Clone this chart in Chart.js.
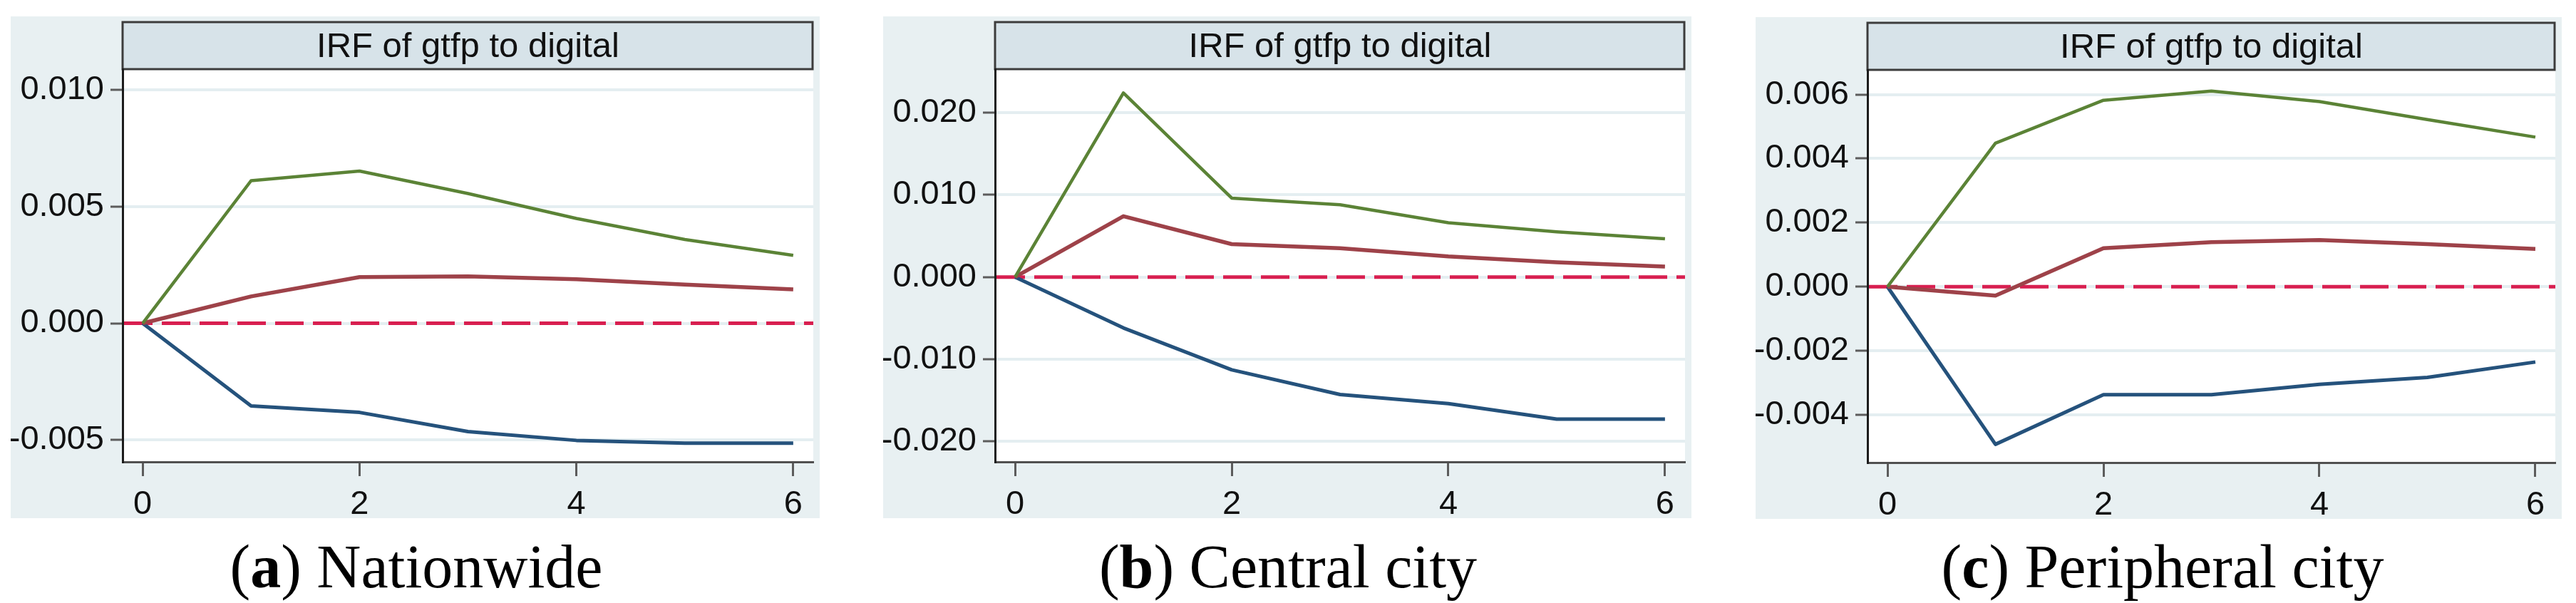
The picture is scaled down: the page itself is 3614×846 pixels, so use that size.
<!DOCTYPE html>
<html><head><meta charset="utf-8">
<script src="https://cdn.jsdelivr.net/npm/chart.js@4.4.1/dist/chart.umd.min.js"></script>
<style>
html,body{margin:0;padding:0;background:#fff;width:3614px;height:846px;overflow:hidden;position:relative;}
canvas{position:absolute;}
.cap{position:absolute;top:752px;font-family:"Liberation Serif","Times New Roman",serif;font-size:86px;line-height:86px;color:#000;white-space:nowrap;transform:translateX(-50%);}
.cap b{font-weight:bold;}
</style></head><body>
<canvas id="pa" width="1135" height="704" style="left:15px;top:23px"></canvas>
<canvas id="pb" width="1134" height="704" style="left:1239px;top:23px"></canvas>
<canvas id="pc" width="1131" height="704" style="left:2463px;top:24px"></canvas>
<div class="cap" id="capa" style="left:584px"></div>
<div class="cap" id="capb" style="left:1807px"></div>
<div class="cap" id="capc" style="left:3034px"></div>
<script>
// ---- data ----
const steps = [0, 1, 2, 3, 4, 5, 6];
const xTicks = [0, 2, 4, 6];
const panelTitle = 'IRF of gtfp to digital';
const captionLetters = ['a', 'b', 'c'];
const captionTexts = ['Nationwide', 'Central city', 'Peripheral city'];

const nationUpper = [0, 0.00611, 0.00652, 0.00556, 0.00449, 0.00359, 0.00291];
const nationIrf   = [0, 0.00115, 0.00198, 0.00201, 0.00189, 0.00166, 0.00145];
const nationLower = [0, -0.00354, -0.00382, -0.00464, -0.00502, -0.00514, -0.00514];
const nationYTicks = [-0.005, 0, 0.005, 0.010];
const nationYRange = [-0.00594, 0.01089];

const centralUpper = [0, 0.0224, 0.0096, 0.0088, 0.0066, 0.0055, 0.00465];
const centralIrf   = [0, 0.0074, 0.0040, 0.0035, 0.0025, 0.0018, 0.00126];
const centralLower = [0, -0.0062, -0.0113, -0.0143, -0.0154, -0.0173, -0.0173];
const centralYTicks = [-0.020, -0.010, 0, 0.010, 0.020];
const centralYRange = [-0.0225, 0.0253];

const periphUpper = [0, 0.00448, 0.00582, 0.00611, 0.00578, 0.00522, 0.00467];
const periphIrf   = [0, -0.00028, 0.00120, 0.00139, 0.00146, 0.00133, 0.00118];
const periphLower = [0, -0.00492, -0.00337, -0.00337, -0.00305, -0.00283, -0.00235];
const periphYTicks = [-0.004, -0.002, 0, 0.002, 0.004, 0.006];
const periphYRange = [-0.00549, 0.00677];

// ---- styles ----
const BG = '#e8f0f2', HEADER = '#d7e3e9', GRID = '#e4eef1';
const GREEN = '#5b8336', MAROON = '#9e4249', NAVY = '#25527c', ZERO = '#d81f50';
const FONT = '"Liberation Sans", Arial, sans-serif';

const panelPlugin = {
  id: 'panel',
  beforeDraw(chart) {
    const c = chart.ctx, a = chart.chartArea;
    c.save();
    c.fillStyle = BG; c.fillRect(0, 0, chart.width, chart.height);
    c.fillStyle = '#ffffff'; c.fillRect(a.left, a.top, a.right - a.left, a.bottom - a.top);
    const hTop = 8;
    c.fillStyle = HEADER; c.fillRect(a.left, hTop, a.right - a.left, a.top - hTop);
    c.strokeStyle = '#3c3c3c'; c.lineWidth = 3;
    c.strokeRect(a.left, hTop, a.right - a.left - 1, a.top - hTop);
    c.fillStyle = '#111'; c.font = '49px ' + FONT; c.textAlign = 'center'; c.textBaseline = 'alphabetic';
    c.fillText(panelTitle, (a.left + a.right) / 2, hTop + 49);
    c.restore();
  },
  beforeDatasetsDraw(chart) {
    const c = chart.ctx, a = chart.chartArea;
    const y0 = chart.scales.y.getPixelForValue(0);
    c.save();
    c.strokeStyle = ZERO; c.lineWidth = 5; c.setLineDash([40, 13]);
    c.beginPath(); c.moveTo(a.left + 2, y0); c.lineTo(a.right, y0); c.stroke();
    c.restore();
  }
};

function pts(vals) { return steps.map((x, i) => ({ x: x, y: vals[i] })); }

function makeChart(id, upper, irf, lower, yTicks, yRange) {
  return new Chart(document.getElementById(id), {
    type: 'line',
    data: { datasets: [
      { data: pts(upper), borderColor: GREEN, borderWidth: 4.5 },
      { data: pts(irf), borderColor: MAROON, borderWidth: 5.5 },
      { data: pts(lower), borderColor: NAVY, borderWidth: 5 }
    ]},
    options: {
      responsive: false, animation: false, devicePixelRatio: 1,
      layout: { padding: { top: 74, right: 9, left: 0, bottom: 0 } },
      plugins: { legend: { display: false }, tooltip: { enabled: false }, title: { display: false } },
      elements: { point: { radius: 0 }, line: { tension: 0, borderJoinStyle: 'round', fill: false } },
      scales: {
        x: {
          type: 'linear', min: -0.185, max: 6.185,
          afterBuildTicks: s => { s.ticks = xTicks.map(v => ({ value: v })); },
          afterFit: s => { s.height = 79; },
          grid: { drawOnChartArea: false, drawTicks: true, tickLength: 20, tickWidth: 3, tickColor: '#5c5c5c' },
          border: { display: true, color: '#505050', width: 3 },
          ticks: { font: { family: FONT, size: 47 }, color: '#111', padding: 12, maxRotation: 0, autoSkip: false,
                   callback: v => String(v) }
        },
        y: {
          type: 'linear', min: yRange[0], max: yRange[1],
          afterBuildTicks: s => { s.ticks = yTicks.map(v => ({ value: v })); },
          afterFit: s => { s.width = 157; },
          grid: { color: GRID, lineWidth: 4, drawTicks: true, tickLength: 17, tickWidth: 3, tickColor: '#5c5c5c' },
          border: { display: true, color: '#1c1c1c', width: 3 },
          ticks: { font: { family: FONT, size: 47 }, color: '#111', padding: 9, autoSkip: false,
                   callback: v => Number(v).toFixed(3) }
        }
      }
    },
    plugins: [panelPlugin]
  });
}

makeChart('pa', nationUpper, nationIrf, nationLower, nationYTicks, nationYRange);
makeChart('pb', centralUpper, centralIrf, centralLower, centralYTicks, centralYRange);
makeChart('pc', periphUpper, periphIrf, periphLower, periphYTicks, periphYRange);

['capa', 'capb', 'capc'].forEach((id, i) => {
  const el = document.getElementById(id);
  el.appendChild(document.createTextNode('('));
  const b = document.createElement('b'); b.textContent = captionLetters[i]; el.appendChild(b);
  el.appendChild(document.createTextNode(') ' + captionTexts[i]));
});
</script>
</body></html>
